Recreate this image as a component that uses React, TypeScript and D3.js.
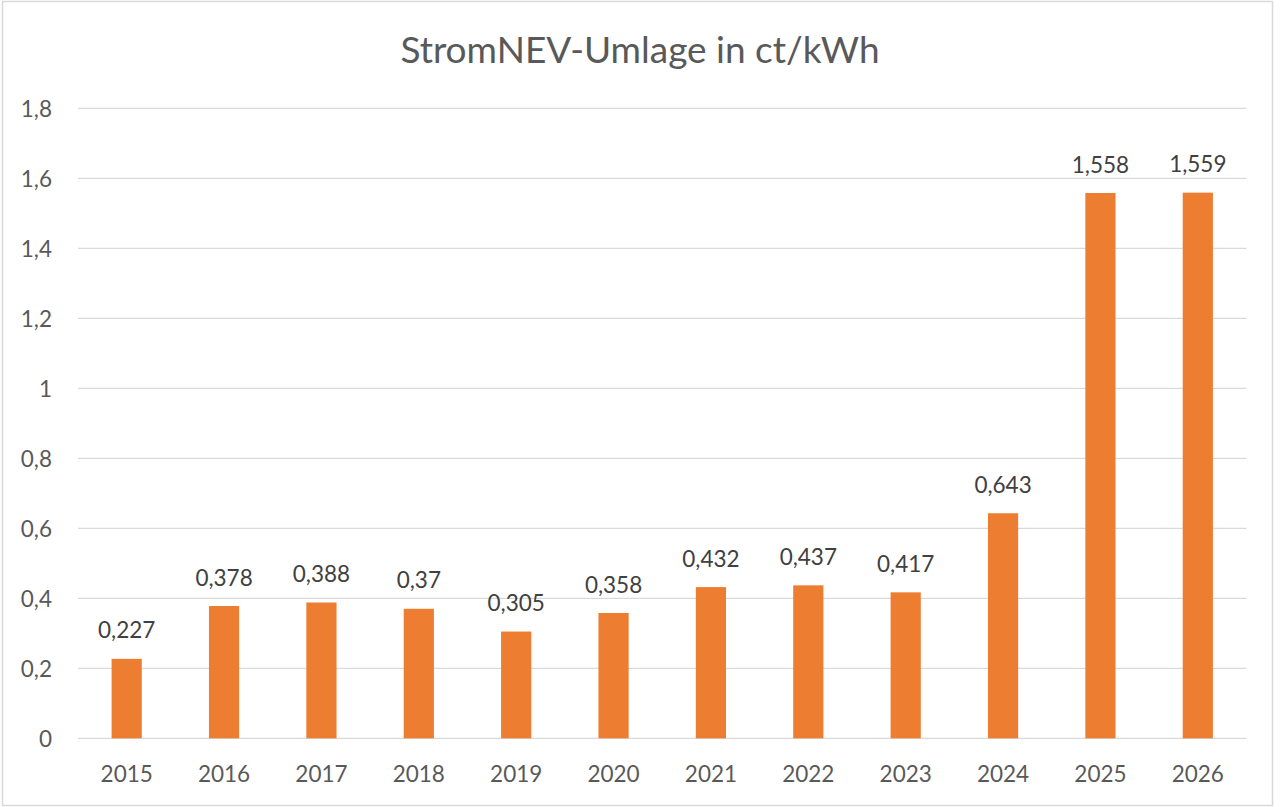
import React from "react";
import * as d3 from "d3";

const years = ["2015","2016","2017","2018","2019","2020","2021","2022","2023","2024","2025","2026"];
const values = [0.227,0.378,0.388,0.37,0.305,0.358,0.432,0.437,0.417,0.643,1.558,1.559];
const valueLabels = ["0,227","0,378","0,388","0,37","0,305","0,358","0,432","0,437","0,417","0,643","1,558","1,559"];
const yTicks = [0,0.2,0.4,0.6,0.8,1,1.2,1.4,1.6,1.8];
const title = "StromNEV-Umlage in ct/kWh";

const W = 1280, H = 807;
const font = "Lato, 'Open Sans', sans-serif";

export default function App() {
  const x = d3.scaleBand<string>().domain(years).range([78, 1246.5]).paddingInner(0.69).paddingOuter(0.345);
  const y = d3.scaleLinear().domain([0, 1.8]).range([738.3, 108.3]);
  const fmt = (v: number) => String(v).replace(".", ",");
  return (
    <svg width={W} height={H} style={{ position: "absolute", left: 0, top: 0, display: "block" }}>
      <rect x={0} y={0} width={W} height={H} fill="#fff" />
      <rect x={2.5} y={1.5} width={1270} height={804} fill="none" stroke="#d9d9d9" strokeWidth={1.5} />
      <text x={640} y={48} textAnchor="middle" dominantBaseline="central" fontFamily={font} fontSize={37} fill="#595959">{title}</text>
      {yTicks.map((t) => (
        <g key={t}>
          <line x1={78} x2={1246.5} y1={y(t)} y2={y(t)} stroke="#d9d9d9" strokeWidth={1.3} />
          <text x={52} y={y(t)} textAnchor="end" dominantBaseline="central" fontFamily={font} fontSize={22.5} fill="#595959">{fmt(t)}</text>
        </g>
      ))}
      {years.map((yr, i) => (
        <g key={yr}>
          <rect x={x(yr)} y={y(values[i])} width={x.bandwidth()} height={y(0) - y(values[i])} fill="#ED7D31" />
          <text x={(x(yr) as number) + x.bandwidth() / 2} y={y(values[i]) - 29} textAnchor="middle" dominantBaseline="central" fontFamily={font} fontSize={22.5} fill="#404040">{valueLabels[i]}</text>
          <text x={(x(yr) as number) + x.bandwidth() / 2} y={773} textAnchor="middle" dominantBaseline="central" fontFamily={font} fontSize={22.5} fill="#595959">{yr}</text>
        </g>
      ))}
    </svg>
  );
}
